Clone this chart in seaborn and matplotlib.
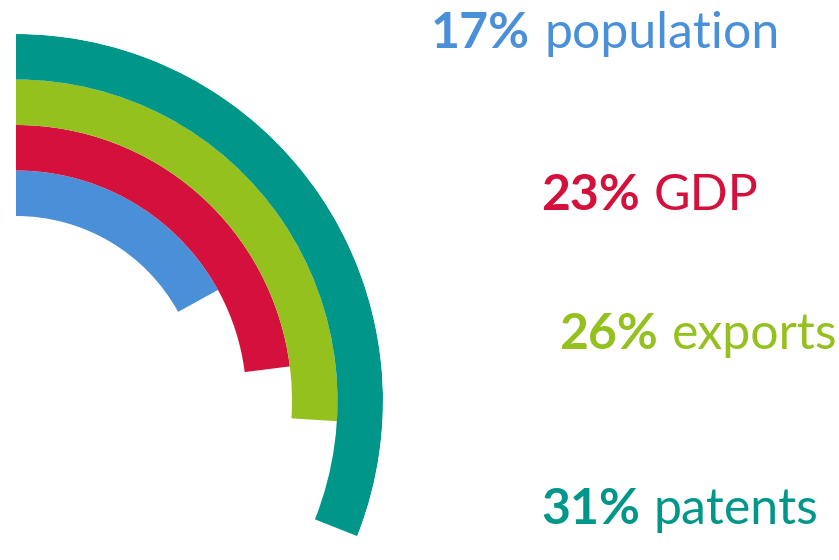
import numpy as np
import pandas as pd
import seaborn as sns
import matplotlib.pyplot as plt

### data
labels = ['population', 'GDP', 'exports', 'patents']
shares = [17, 23, 26, 31]
colors = ['#4A90D9', '#D4113D', '#95C11F', '#00968A']

sns.set_theme(style='white')
plt.rcParams['font.family'] = ['Lato', 'DejaVu Sans']

df = pd.DataFrame({'label': labels, 'share': shares})
df['theta'] = df['share'] / 100 * 2 * np.pi

W, H = 839, 560
fig = plt.figure(figsize=(W / 100, H / 100), dpi=100)

### polar axes centred on the arcs' origin (pixel 16, 401), outer radius 367 px
cx, cy, R = 16, 401, 367
ax = fig.add_axes([(cx - R) / W, (H - cy - R) / H, 2 * R / W, 2 * R / H],
                  projection='polar')
ax.set_theta_zero_location('N')
ax.set_theta_direction(-1)

sns.barplot(data=df, x='theta', y='label', hue='label', palette=colors,
            order=labels, orient='h', width=1.0, legend=False, ax=ax,
            saturation=1, linewidth=0, edgecolor='none')

# ring width 45.5 px, inner ring starts 185 px from the centre
band = 45.5
ax.set_ylim(-0.5 - 185 / band, 3.5)
ax.set_xlim(0, 2 * np.pi)
ax.grid(False)
ax.set_xticks([])
ax.set_yticks([])
ax.set_xlabel('')
ax.set_ylabel('')
ax.spines['polar'].set_visible(False)
ax.patch.set_alpha(0)

### labels: bold percentage then regular word
label_pos = [(431, 48), (541, 210), (559, 349), (541, 524)]
fs = 36
fig.canvas.draw()
r = fig.canvas.get_renderer()
for (x, y), lab, s, c in zip(label_pos, labels, shares, colors):
    t = fig.text(x / W, 1 - y / H, f'{s}%', fontsize=fs, fontweight='bold',
                 color=c, ha='left', va='baseline')
    bb = t.get_window_extent(renderer=r)
    fig.text((bb.x1 + 14) / W, 1 - y / H, lab, fontsize=fs, color=c,
             ha='left', va='baseline')

fig.savefig('out.png', dpi=100)
